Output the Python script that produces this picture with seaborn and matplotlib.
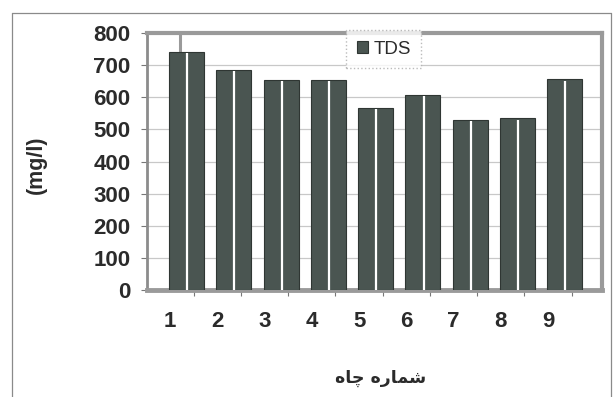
import matplotlib
matplotlib.use("Agg")
import matplotlib.pyplot as plt
import seaborn as sns
import pandas as pd
from matplotlib.lines import Line2D

# Total dissolved solids per well
wells = ["1", "2", "3", "4", "5", "6", "7", "8", "9"]
tds = [742, 686, 654, 654, 566, 608, 529, 534, 656]
y_ticks = [0, 100, 200, 300, 400, 500, 600, 700, 800]
series_name = "TDS"
y_title = "(mg/l)"
# "well number", written in presentation forms in visual order
x_title = "\uFEE9\uFE8E\uFB7C \uFEE9\uFEAD\uFE8E\uFEE4\uFEB7"

BAR = "#4a5551"
WALL = "#9a9a9a"
GRID = "#c8c8c8"
TEXT = "#2b2b2b"
DEPTH = 0.35  # horizontal offset of the front plane, in category widths

sns.set_theme(style="white")
plt.rcParams["font.family"] = ["Liberation Sans", "DejaVu Sans"]

W, H = 614, 397
fig = plt.figure(figsize=(W / 100, H / 100), dpi=100)
ax = fig.add_axes([147 / W, 1 - 290 / H, 455 / W, (290 - 33) / H])

df = pd.DataFrame({"well": wells, "TDS": tds})
sns.barplot(data=df, x="well", y="TDS", color=BAR, saturation=1, width=0.74,
            edgecolor="#2f3633", linewidth=0.8, label=series_name, ax=ax, zorder=3)

# edge between the front and side face of each column
for p in ax.patches:
    cx = p.get_x() + p.get_width() * 0.52
    ax.plot([cx, cx], [0, p.get_height() - 4], color="white", lw=1.6,
            zorder=4, solid_capstyle="butt")

ax.set_xlim(-0.836, 8.79)
ax.set_ylim(0, 800)
ax.set_yticks(y_ticks)
ax.yaxis.grid(True, color=GRID, lw=0.9, zorder=0)
ax.axvline(-0.14, color=WALL, lw=2.2, zorder=1)

for side in ["top", "right"]:
    ax.spines[side].set_color(WALL)
    ax.spines[side].set_linewidth(3)
ax.spines["left"].set_color("#8c8c8c")
ax.spines["left"].set_linewidth(2)
ax.spines["bottom"].set_color(WALL)
ax.spines["bottom"].set_linewidth(3.5)

ax.set_xlabel("")
ax.set_ylabel("")

# category labels sit in the front plane, left of the columns
ax.set_xticks([i - DEPTH for i in range(len(wells))])
ax.set_xticklabels(wells, fontweight="bold")
ax.tick_params(axis="x", length=0, pad=15, labelsize=16, labelcolor=TEXT)
ax.set_xticks([i - DEPTH + 0.5 for i in range(len(wells))], minor=True)
ax.tick_params(axis="x", which="minor", bottom=True, length=4, width=0.8,
               color="#777777", direction="out")

ax.set_yticklabels([str(v) for v in y_ticks], fontweight="bold")
ax.tick_params(axis="y", left=True, length=4, width=0.8, color="#777777",
               direction="out", pad=8, labelsize=16, labelcolor=TEXT)

leg = ax.legend(loc="center", bbox_to_anchor=(384 / W, 1 - 49 / H),
                bbox_transform=fig.transFigure, fontsize=13.5, frameon=True,
                fancybox=False, handlelength=0.6, handleheight=0.6,
                handletextpad=0.3, borderpad=0.55, borderaxespad=0)
leg.get_frame().set_edgecolor("#aaaaaa")
leg.get_frame().set_linestyle(":")
leg.get_frame().set_linewidth(1)
for t in leg.get_texts():
    t.set_color(TEXT)

fig.text(36 / W, 1 - 165 / H, y_title, rotation=90, ha="center", va="center",
         fontsize=15.5, fontweight="bold", color=TEXT)
fig.text(381 / W, 1 - 378 / H, x_title, ha="center", va="center",
         fontsize=12.5, fontweight="bold", color=TEXT, family=["DejaVu Sans"])

# outer chart frame
frame_kw = dict(color="#8a8a8a", lw=0.9, transform=fig.transFigure)
fig.add_artist(Line2D([12 / W, 12 / W], [0, 1 - 13 / H], **frame_kw))
fig.add_artist(Line2D([12 / W, 611 / W], [1 - 13 / H, 1 - 13 / H], **frame_kw))
fig.add_artist(Line2D([611 / W, 611 / W], [0, 1 - 13 / H], **frame_kw))

fig.savefig("out.png", dpi=100)
